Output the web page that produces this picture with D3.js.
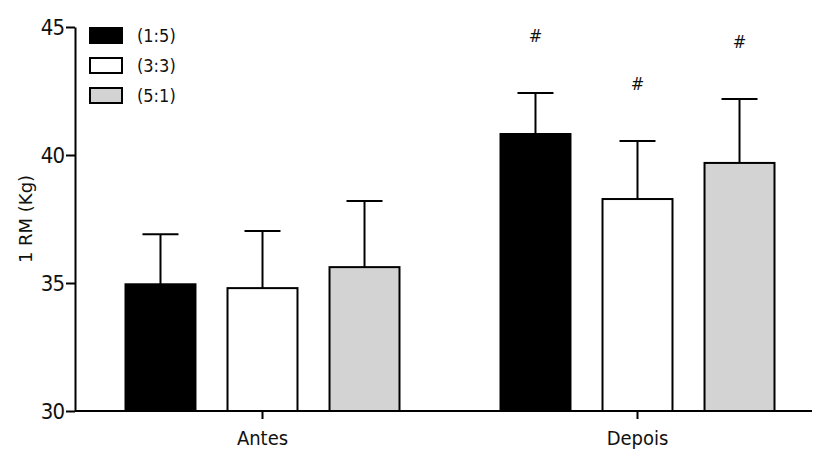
<!DOCTYPE html>
<html>
<head>
<meta charset="utf-8">
<script src="https://cdn.jsdelivr.net/npm/d3@7"></script>
<style>
  body { margin: 0; background: #fff; }
  svg text { font-family: "DejaVu Sans Condensed", "DejaVu Sans", sans-serif; fill: #111; }
</style>
</head>
<body>
<svg id="chart" width="813" height="455"></svg>
<script>
// data
const groups = ["Antes", "Depois"];
const series = ["(1:5)", "(3:3)", "(5:1)"];
const fills = ["#000000", "#ffffff", "#d3d3d3"];
const means = [[34.95, 34.8, 35.62], [40.82, 38.28, 39.69]];
const sds = [[1.95, 2.23, 2.58], [1.6, 2.27, 2.5]];
const marks = [["", "", ""], ["#", "#", "#"]];
const yTicks = [30, 35, 40, 45];

const width = 813, height = 455;
const marginTop = 27, marginBottom = 44, marginLeft = 75;

const svg = d3.select("#chart");

const x = d3.scaleBand().domain(groups).range([marginLeft, 825]).padding(0);
const xi = d3.scaleBand().domain(series).range([-137, 137]).paddingInner(0.314);
const y = d3.scaleLinear().domain([30, 45]).range([height - marginBottom, marginTop]);

const rows = [];
groups.forEach((g, gi) => series.forEach((s, si) => rows.push({
  g, s, si, mean: means[gi][si], sd: sds[gi][si], mark: marks[gi][si]
})));

// bars
svg.append("g").selectAll("rect").data(rows).join("rect")
  .attr("x", d => x(d.g) + x.bandwidth() / 2 + xi(d.s))
  .attr("y", d => y(d.mean))
  .attr("width", xi.bandwidth())
  .attr("height", d => y(30) - y(d.mean))
  .attr("fill", d => fills[d.si])
  .attr("stroke", "#000")
  .attr("stroke-width", 2);

// error bars (upper only)
const eb = svg.append("g").attr("stroke", "#000").attr("stroke-width", 2);
rows.forEach(d => {
  const cx = x(d.g) + x.bandwidth() / 2 + xi(d.s) + xi.bandwidth() / 2;
  eb.append("line").attr("x1", cx).attr("x2", cx).attr("y1", y(d.mean)).attr("y2", y(d.mean + d.sd));
  eb.append("line").attr("x1", cx - 18).attr("x2", cx + 18).attr("y1", y(d.mean + d.sd)).attr("y2", y(d.mean + d.sd));
  if (d.mark) {
    svg.append("text")
      .attr("x", cx)
      .attr("y", y(d.mean + d.sd) - 51)
      .attr("text-anchor", "middle")
      .attr("font-size", 18)
      .attr("fill", "#000")
      .text(d.mark);
  }
});

// axes
const yAxis = svg.append("g")
  .attr("transform", `translate(${marginLeft},0)`)
  .call(d3.axisLeft(y).tickValues(yTicks).tickSize(9).tickSizeOuter(0).tickPadding(2));
yAxis.selectAll("path, line").attr("stroke", "#000").attr("stroke-width", 2);
yAxis.selectAll("text").attr("font-size", 22).attr("fill", "#111")
  .style("font-family", "'DejaVu Sans Condensed', sans-serif").style("letter-spacing", "-1px");

const xAxis = svg.append("g")
  .attr("transform", `translate(0,${y(30)})`)
  .call(d3.axisBottom(x).tickSize(8).tickSizeOuter(0).tickPadding(12));
xAxis.select(".domain").attr("d", `M${marginLeft},0H812`);
xAxis.selectAll("path, line").attr("stroke", "#000").attr("stroke-width", 2);
xAxis.selectAll("text").attr("font-size", 20).attr("fill", "#111")
  .style("font-family", "'DejaVu Sans Condensed', sans-serif");

// y label
svg.append("text")
  .attr("transform", `translate(32,${(marginTop + y(30)) / 2}) rotate(-90)`)
  .attr("text-anchor", "middle")
  .attr("font-size", 18)
  .style("font-family", "'DejaVu Sans', sans-serif")
  .text("1 RM (Kg)");

// legend
const legend = svg.append("g").attr("transform", "translate(90,28)");
series.forEach((s, i) => {
  const row = legend.append("g").attr("transform", `translate(0,${i * 30})`);
  row.append("rect").attr("width", 32).attr("height", 15)
    .attr("fill", fills[i]).attr("stroke", "#000").attr("stroke-width", 2);
  row.append("text").attr("x", 47).attr("y", 14)
    .attr("font-size", 18)
    .text(s);
});
</script>
</body>
</html>
